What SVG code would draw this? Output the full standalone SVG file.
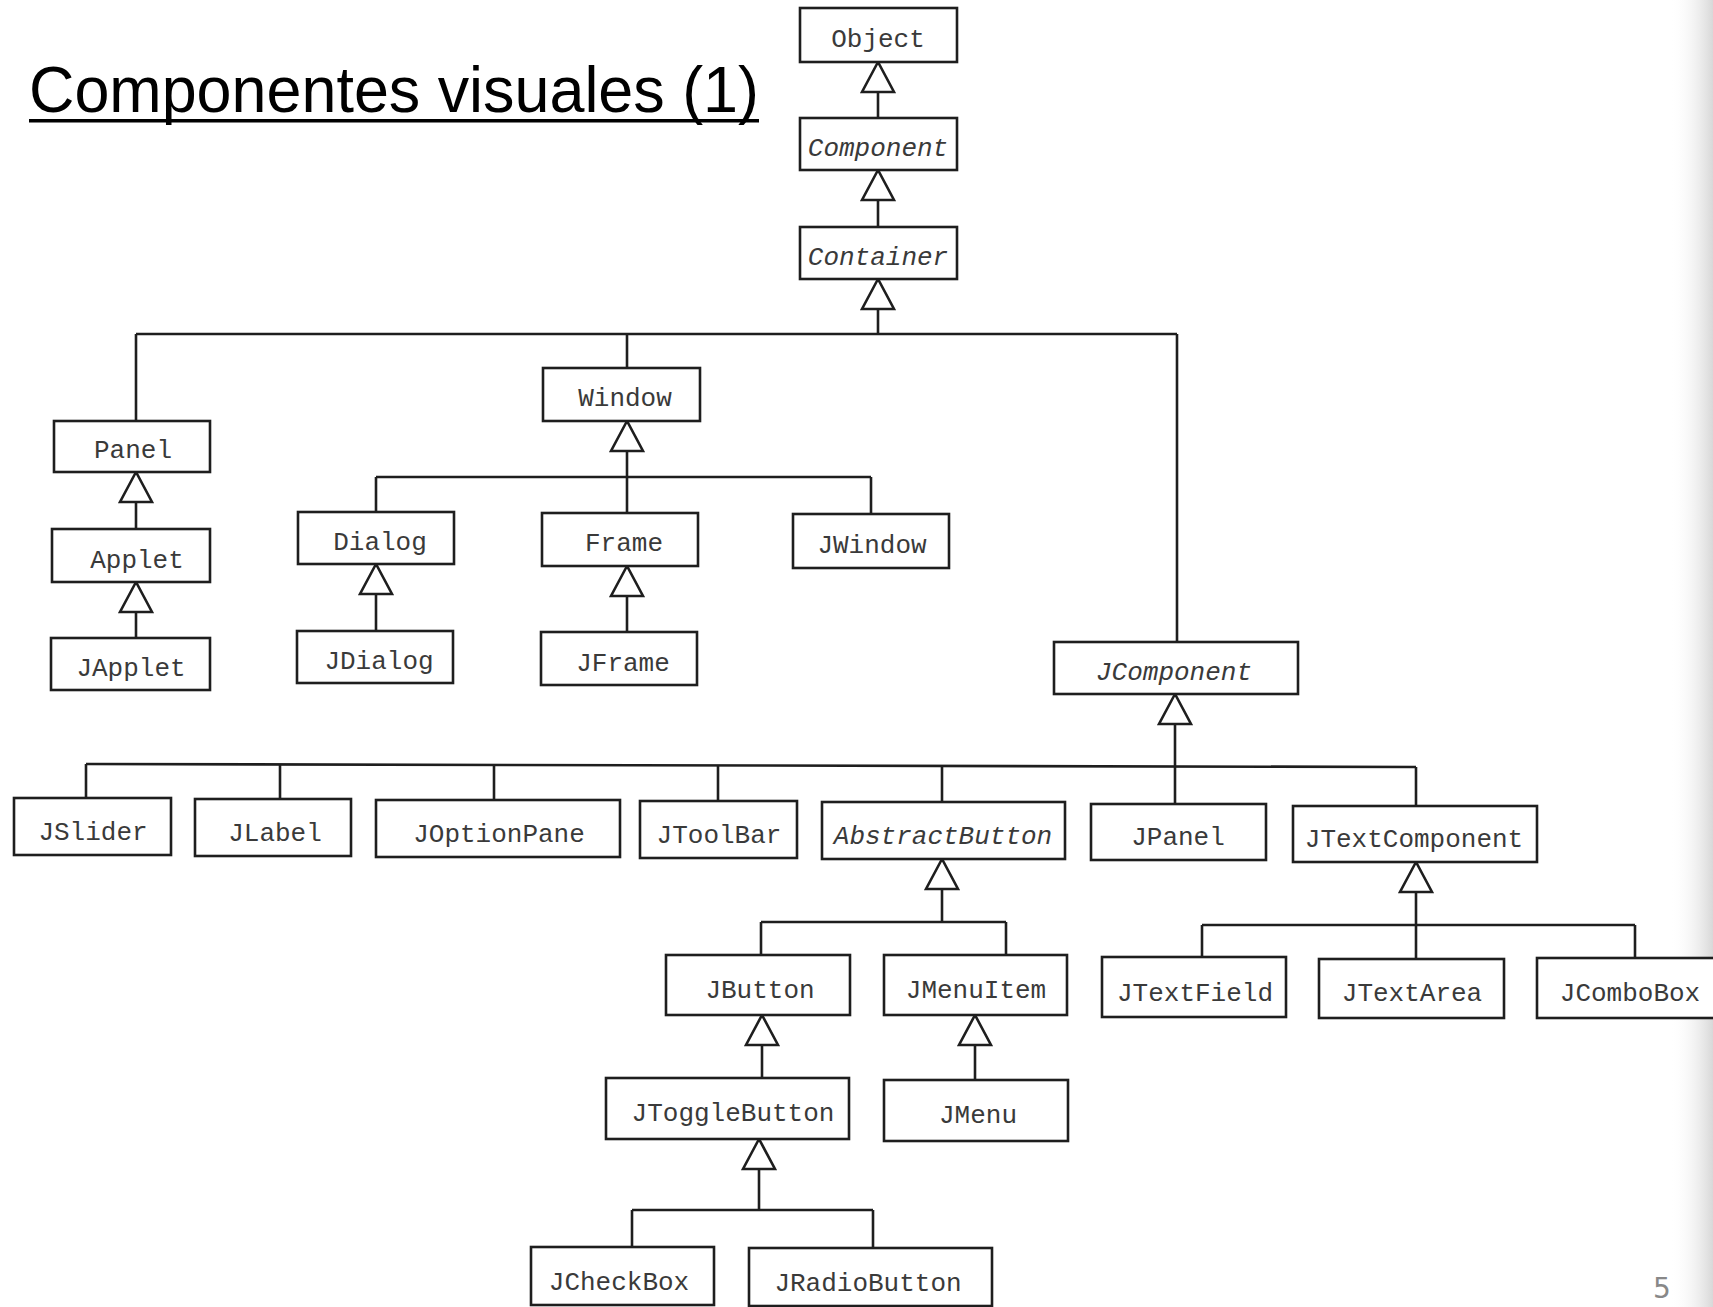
<svg xmlns="http://www.w3.org/2000/svg" width="1713" height="1307" viewBox="0 0 1713 1307">
<defs>
<style>
.box{fill:#fff;stroke:#1e1e1e;stroke-width:2.6}
.lbl{font-family:"Liberation Mono","DejaVu Sans Mono",monospace;font-size:26px;fill:#3a3a3a;text-anchor:middle}
.it{font-style:italic}
.con{fill:none;stroke:#1e1e1e;stroke-width:2.6}
.inh{marker-end:url(#tri)}
</style>
<marker id="tri" viewBox="-33 -18 35 36" refX="0" refY="0" markerWidth="35" markerHeight="36" markerUnits="userSpaceOnUse" orient="auto">
<path d="M0,0 L-30,-16 L-30,16 Z" fill="#fff" stroke="#1e1e1e" stroke-width="2.6" stroke-linejoin="miter"/>
</marker>
<linearGradient id="edge" x1="0" y1="0" x2="1" y2="0">
<stop offset="0" stop-color="#fff" stop-opacity="0"/>
<stop offset="1" stop-color="#d8d8d8"/>
</linearGradient>
</defs>
<rect x="0" y="0" width="1713" height="1307" fill="#fff"/>
<rect x="1670" y="0" width="43" height="1307" fill="url(#edge)"/>

<text x="29" y="112" font-family="Liberation Sans, Arial, sans-serif" font-size="65" fill="#000" textLength="730" lengthAdjust="spacingAndGlyphs">Componentes visuales (1)</text>
<rect x="29" y="119" width="730" height="3.5" fill="#000"/>
<text x="1662" y="1298" font-family="DejaVu Sans, sans-serif" font-size="28" fill="#888" text-anchor="middle">5</text>

<g id="connectors">
<path class="con inh" d="M878,118 V62"/>
<path class="con inh" d="M878,227 V170"/>
<path class="con inh" d="M878,334 V279"/>
<path class="con" d="M136,334 H1177"/>
<path class="con" d="M136,334 V421"/>
<path class="con" d="M627,334 V368"/>
<path class="con" d="M1177,334 V642"/>
<path class="con inh" d="M136,529 V472"/>
<path class="con inh" d="M136,638 V582"/>
<path class="con inh" d="M627,477 V421"/>
<path class="con" d="M376,477 H871"/>
<path class="con" d="M376,477 V512"/>
<path class="con" d="M627,477 V513"/>
<path class="con" d="M871,477 V514"/>
<path class="con inh" d="M376,631 V564"/>
<path class="con inh" d="M627,632 V566"/>
<path class="con inh" d="M1175,765 V694"/>
<path class="con" d="M86,764 L1416,767"/>
<path class="con" d="M86,764 V798"/>
<path class="con" d="M280,764 V799"/>
<path class="con" d="M494,765 V800"/>
<path class="con" d="M718,765 V801"/>
<path class="con" d="M942,766 V802"/>
<path class="con" d="M1175,765 V804"/>
<path class="con" d="M1416,767 V806"/>
<path class="con inh" d="M942,922 V859"/>
<path class="con" d="M761,922 H1006"/>
<path class="con" d="M761,922 V955"/>
<path class="con" d="M1006,922 V955"/>
<path class="con inh" d="M1416,925 V862"/>
<path class="con" d="M1202,925 H1635"/>
<path class="con" d="M1202,925 V957"/>
<path class="con" d="M1416,925 V959"/>
<path class="con" d="M1635,925 V958"/>
<path class="con inh" d="M762,1078 V1015"/>
<path class="con inh" d="M975,1080 V1015"/>
<path class="con inh" d="M759,1210 V1139"/>
<path class="con" d="M632,1210 H873"/>
<path class="con" d="M632,1210 V1247"/>
<path class="con" d="M873,1210 V1248"/>
</g>

<g id="Object"><rect class="box" x="800" y="8" width="157" height="54"/><text class="lbl" x="878" y="47">Object</text></g>
<g id="Component"><rect class="box" x="800" y="118" width="157" height="52"/><text class="lbl it" x="878" y="156">Component</text></g>
<g id="Container"><rect class="box" x="800" y="227" width="157" height="52"/><text class="lbl it" x="878" y="265">Container</text></g>

<g id="Panel"><rect class="box" x="54" y="421" width="156" height="51"/><text class="lbl" x="133" y="458">Panel</text></g>
<g id="Applet"><rect class="box" x="52" y="529" width="158" height="53"/><text class="lbl" x="137" y="568">Applet</text></g>
<g id="JApplet"><rect class="box" x="51" y="638" width="159" height="52"/><text class="lbl" x="131" y="676">JApplet</text></g>

<g id="Window"><rect class="box" x="543" y="368" width="157" height="53"/><text class="lbl" x="625" y="406">Window</text></g>
<g id="Dialog"><rect class="box" x="298" y="512" width="156" height="52"/><text class="lbl" x="380" y="550">Dialog</text></g>
<g id="Frame"><rect class="box" x="542" y="513" width="156" height="53"/><text class="lbl" x="624" y="551">Frame</text></g>
<g id="JWindow"><rect class="box" x="793" y="514" width="156" height="54"/><text class="lbl" x="872" y="553">JWindow</text></g>
<g id="JDialog"><rect class="box" x="297" y="631" width="156" height="52"/><text class="lbl" x="379" y="669">JDialog</text></g>
<g id="JFrame"><rect class="box" x="541" y="632" width="156" height="53"/><text class="lbl" x="623" y="671">JFrame</text></g>

<g id="JComponent"><rect class="box" x="1054" y="642" width="244" height="52"/><text class="lbl it" x="1174" y="680">JComponent</text></g>

<g id="JSlider"><rect class="box" x="14" y="798" width="157" height="57"/><text class="lbl" x="93" y="840">JSlider</text></g>
<g id="JLabel"><rect class="box" x="195" y="799" width="156" height="57"/><text class="lbl" x="275" y="841">JLabel</text></g>
<g id="JOptionPane"><rect class="box" x="376" y="800" width="244" height="57"/><text class="lbl" x="499" y="842">JOptionPane</text></g>
<g id="JToolBar"><rect class="box" x="640" y="801" width="157" height="57"/><text class="lbl" x="719" y="843">JToolBar</text></g>
<g id="AbstractButton"><rect class="box" x="822" y="802" width="243" height="57"/><text class="lbl it" x="943" y="844">AbstractButton</text></g>
<g id="JPanel"><rect class="box" x="1091" y="804" width="175" height="56"/><text class="lbl" x="1178" y="845">JPanel</text></g>
<g id="JTextComponent"><rect class="box" x="1293" y="806" width="244" height="56"/><text class="lbl" x="1414" y="847">JTextComponent</text></g>

<g id="JButton"><rect class="box" x="666" y="955" width="184" height="60"/><text class="lbl" x="760" y="998">JButton</text></g>
<g id="JMenuItem"><rect class="box" x="884" y="955" width="183" height="60"/><text class="lbl" x="976" y="998">JMenuItem</text></g>
<g id="JTextField"><rect class="box" x="1102" y="957" width="184" height="60"/><text class="lbl" x="1195" y="1001">JTextField</text></g>
<g id="JTextArea"><rect class="box" x="1319" y="959" width="185" height="59"/><text class="lbl" x="1412" y="1001">JTextArea</text></g>
<g id="JComboBox"><rect class="box" x="1537" y="958" width="185" height="60"/><text class="lbl" x="1630" y="1001">JComboBox</text></g>

<g id="JToggleButton"><rect class="box" x="606" y="1078" width="243" height="61"/><text class="lbl" x="733" y="1121">JToggleButton</text></g>
<g id="JMenu"><rect class="box" x="884" y="1080" width="184" height="61"/><text class="lbl" x="978" y="1123">JMenu</text></g>

<g id="JCheckBox"><rect class="box" x="531" y="1247" width="183" height="58"/><text class="lbl" x="619" y="1290">JCheckBox</text></g>
<g id="JRadioButton"><rect class="box" x="749" y="1248" width="243" height="58"/><text class="lbl" x="868" y="1291">JRadioButton</text></g>
</svg>
